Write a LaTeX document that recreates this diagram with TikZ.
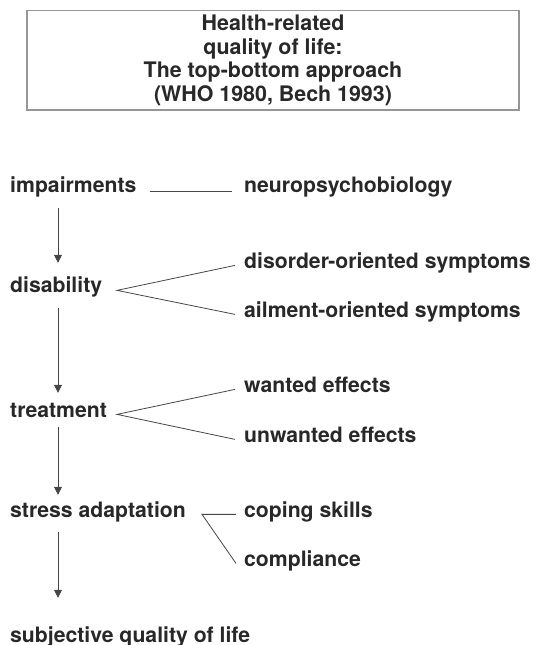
\documentclass[tikz,border=0pt]{standalone}
\usepackage{fontspec}
\setmainfont{TeX Gyre Heros}
\usetikzlibrary{arrows.meta}
\definecolor{ink}{RGB}{40,40,40}
\definecolor{wire}{RGB}{70,70,70}
\definecolor{frame}{RGB}{150,150,150}
\tikzset{
  lbl/.style={inner sep=0pt, anchor=base west, text=ink,
    font=\fontsize{21.2pt}{23.5pt}\selectfont\bfseries,
    text height=15pt, text depth=5pt},
  link/.style={draw=wire, line width=0.8pt},
  flow/.style={draw=wire, line width=0.8pt,
    -{Triangle[length=8pt,width=8pt]}},
  titlebox/.style={draw=frame, line width=1.2pt, align=center, text=ink,
    font=\fontsize{21.4pt}{23.5pt}\selectfont\bfseries,
    minimum width=492pt, minimum height=99.5pt, inner sep=0pt}
}
\begin{document}
\begin{tikzpicture}[x=1pt,y=-1pt]
\useasboundingbox (0,0) rectangle (539,645);

% heading box
\node[titlebox] (title) at (273,60.25)
  {Health-related\\quality of life:\\The top-bottom approach\\(WHO 1980, Bech 1993)};

% main chain
\node[lbl] (imp)   at (10,192) {impairments};
\node[lbl] (dis)   at (10,292) {disability};
\node[lbl] (treat) at (10,417) {treatment};
\node[lbl] (str)   at (10,517) {stress adaptation};
\node[lbl] (subj)  at (10,642) {subjective quality of life};

% side aspects
\node[lbl] (neuro) at (244,192) {neuropsychobiology};
\node[lbl] (dord)  at (244,268) {disorder-oriented symptoms};
\node[lbl] (ail)   at (244,317) {ailment-oriented symptoms};
\node[lbl] (want)  at (244,392) {wanted effects};
\node[lbl] (unw)   at (244,442) {unwanted effects};
\node[lbl] (cope)  at (244,517) {coping skills};
\node[lbl] (comp)  at (244,566) {compliance};

% branching points
\coordinate (disapex)   at ([xshift=107pt,yshift=-1pt]dis.mid west);
\coordinate (treatapex) at ([xshift=107pt]treat.mid west);
\coordinate (strapex)   at ([xshift=192pt]str.mid west);

% side connectors
\draw[link] ([xshift=13pt,yshift=-2pt]imp.mid east) -- ([xshift=-12pt,yshift=-2pt]neuro.mid west);
\draw[link] ([xshift=-9pt]dord.mid west) -- (disapex) -- ([xshift=-9pt]ail.mid west);
\draw[link] ([xshift=-9pt]want.mid west) -- (treatapex) -- ([xshift=-9pt]unw.mid west);
\draw[link] ([xshift=-8pt]cope.mid west) -- (strapex) -- ([xshift=-8pt]comp.mid west);

% downward arrows
\draw[flow] ([xshift=48pt,yshift=-11pt]imp.south west) -- ([xshift=48pt,yshift=14pt]dis.north west);
\draw[flow] ([xshift=48pt,yshift=-11pt]dis.south west) -- ([xshift=48pt,yshift=9pt]treat.north west);
\draw[flow] ([xshift=48pt,yshift=-5pt]treat.south west) -- ([xshift=48pt,yshift=7pt]str.north west);
\draw[flow] ([xshift=48pt,yshift=-10pt]str.south west) -- ([xshift=48pt,yshift=29pt]subj.north west);
\end{tikzpicture}
\end{document}
